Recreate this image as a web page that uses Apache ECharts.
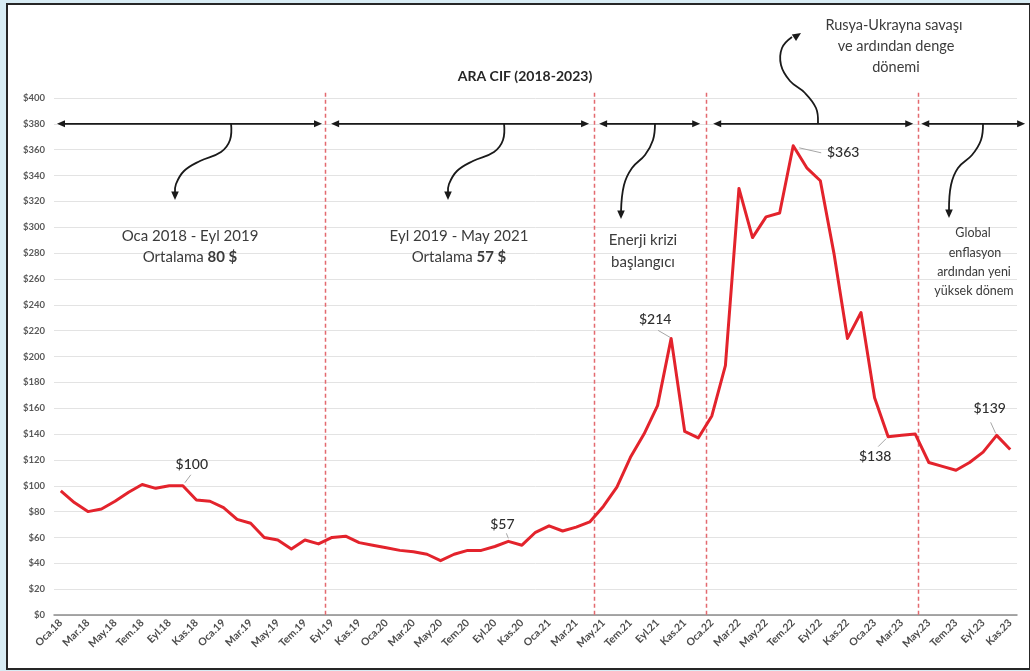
<!DOCTYPE html>
<html>
<head>
<meta charset="utf-8">
<script src="https://cdn.jsdelivr.net/npm/echarts@6/dist/echarts.min.js"></script>
<style>
  html, body { margin: 0; padding: 0; background: #d8ecf4; }
  #wrap { position: relative; width: 1030px; height: 671px; }
  #frame { position: absolute; left: 6px; top: 3px; width: 1021px; height: 663px;
           border: 2px solid #262626; background: #ffffff; }
  #chart { position: absolute; left: 0; top: 0; width: 1030px; height: 671px; }
</style>
</head>
<body>
<div id="wrap"><div id="frame"></div><div id="chart"></div></div>
<script>
// Month names and the years covered (Jan 2018 - Nov 2023)
const monthNames = ['Oca', 'Şub', 'Mar', 'Nis', 'May', 'Haz', 'Tem', 'Ağu', 'Eyl', 'Eki', 'Kas', 'Ara'];
const yearTags = ['18', '19', '20', '21', '22', '23'];
const months = [];
yearTags.forEach(y => monthNames.forEach(m => months.push(m + '.' + y)));
months.length = 71;

// ARA CIF monthly average price, $/t
const prices = [
  96, 87, 80, 82, 88, 95, 101, 98, 100, 100, 89, 88,
  83, 74, 71, 60, 58, 51, 58, 55, 60, 61, 56, 54,
  52, 50, 49, 47, 42, 47, 50, 50, 53, 57, 54, 64,
  69, 65, 68, 72, 84, 99, 122, 140, 162, 214, 142, 137,
  154, 193, 330, 292, 308, 311, 363, 346, 336, 280, 214, 234,
  168, 138, 139, 140, 118, 115, 112, 118, 126, 139, 128
];

// months whose value is written on the chart
const labelled = [9, 33, 45, 54, 61, 69];

// period separators (in month-index units) and the period arrows between them
const periodBreaks = [19.5, 39.3, 47.6, 63.2];
const periodArrows = [[-0.28, 19.26], [19.93, 38.95], [39.69, 47.14], [48.1, 62.85], [63.44, 71.1]];
const arrowLevel = 380;

const yMin = 0, yMax = 400, yStep = 20;

const FONT = 'Lato, "Open Sans", sans-serif';
const INK = '#3b3b3b';
const RED = '#e3232c';

const chart = echarts.init(document.getElementById('chart'), null, { renderer: 'canvas' });

chart.setOption({
  backgroundColor: 'transparent',
  animation: false,
  textStyle: { fontFamily: FONT },
  title: {
    text: 'ARA CIF (2018-2023)',
    left: 520, top: 64, textAlign: 'center',
    textStyle: { fontFamily: FONT, fontSize: 14, fontWeight: 'bold', color: '#262626' }
  },
  grid: { left: 54, right: 13, top: 98, bottom: 56, containLabel: false, outerBoundsMode: 'none' },
  xAxis: [{
    type: 'category',
    data: months,
    boundaryGap: true,
    axisLine: { lineStyle: { color: '#8c8c8c', width: 1.5 } },
    axisTick: { interval: 1, length: 4, lineStyle: { color: '#8c8c8c' } },
    axisLabel: { interval: 1, rotate: 45, margin: 6, fontSize: 10.5, fontWeight: 'bold', color: '#4d4d4d', fontFamily: FONT },
    splitLine: { show: false }
  }, {
    type: 'value', min: -0.5, max: 70.5, show: false
  }],
  yAxis: {
    type: 'value', min: yMin, max: yMax, interval: yStep,
    axisLine: { show: false }, axisTick: { show: false },
    axisLabel: { formatter: v => '$' + v, fontSize: 9.5, fontWeight: 'bold', color: '#595959', margin: 9, fontFamily: FONT },
    splitLine: { lineStyle: { color: '#e3e3e3', width: 1 } }
  },
  series: [{
    type: 'line',
    data: prices,
    symbol: 'none',
    lineStyle: { color: RED, width: 3, join: 'round' },
    z: 5
  }]
});

// ---- annotations ----
const px = i => chart.convertToPixel({ xAxisIndex: 1 }, i);
const cx = i => chart.convertToPixel({ xAxisIndex: 0 }, i);
const py = v => chart.convertToPixel({ yAxisIndex: 0 }, v);

const g = [];

function head(tx, ty, fx, fy, len, half) {
  const a = Math.atan2(ty - fy, tx - fx);
  const bx = tx - len * Math.cos(a), by = ty - len * Math.sin(a);
  const nx = -Math.sin(a) * half, ny = Math.cos(a) * half;
  return { type: 'polygon', silent: true, z: 20,
    shape: { points: [[tx, ty], [bx + nx, by + ny], [bx - nx, by - ny]] },
    style: { fill: '#1a1a1a' } };
}

// dashed period separators
periodBreaks.forEach(b => {
  const x = Math.round(px(b)) + 0.5;
  g.push({ type: 'line', silent: true, z: 3,
    shape: { x1: x, y1: py(404), x2: x, y2: py(0) },
    style: { stroke: '#e36a6f', lineWidth: 1.5, lineDash: [4, 3] } });
});

// double-headed period arrows
periodArrows.forEach(([a, b]) => {
  const y = py(arrowLevel), x1 = px(a), x2 = px(b);
  g.push({ type: 'line', silent: true, z: 20,
    shape: { x1: x1 + 4, y1: y, x2: x2 - 4, y2: y },
    style: { stroke: '#1a1a1a', lineWidth: 1.6 } });
  g.push(head(x1, y, x1 + 10, y, 8, 3.5));
  g.push(head(x2, y, x2 - 10, y, 8, 3.5));
});

// curved pointer arrows
const curves = [
  [[231, 123], [230, 140], [221, 152], [200, 161], [184, 171], [176, 184], [175, 193]],
  [[504, 123], [503, 140], [494, 152], [473, 161], [457, 171], [449, 184], [448, 193]],
  [[655, 123], [653, 140], [645, 155], [632, 168], [624, 185], [621, 212]],
  [[818, 123], [816, 108], [805, 93], [790, 81], [781, 65], [782, 48], [792, 37]],
  [[983, 123], [981, 140], [972, 155], [958, 168], [951, 185], [949, 211]]
];
const tips = [[175, 200], [448, 200], [621, 219], [801, 33], [949, 218]];
curves.forEach((pts, k) => {
  g.push({ type: 'polyline', silent: true, z: 20,
    shape: { points: pts, smooth: 0.4 },
    style: { stroke: '#1a1a1a', lineWidth: 1.8, fill: null } });
  const last = pts[pts.length - 1];
  g.push(head(tips[k][0], tips[k][1], last[0], last[1] - (k === 3 ? -2 : 4), 8.5, 3.8));
});

// period captions
function txt(s, x, y, size, extra) {
  g.push(Object.assign({ type: 'text', silent: true, z: 20,
    style: Object.assign({ text: s, x: x, y: y, align: 'center', verticalAlign: 'middle',
      fontFamily: FONT, fontSize: size, fill: INK }, extra || {}) }));
}
const richB = { n: { fontFamily: FONT, fontSize: 15, color: INK }, b: { fontFamily: FONT, fontSize: 15, fontWeight: 'bold', color: '#262626' } };
txt('Oca 2018 - Eyl 2019', 190, 236, 15);
txt('{n|Ortalama }{b|80 $}', 190, 257, 15, { rich: richB });
txt('Eyl 2019 - May 2021', 459, 236, 15);
txt('{n|Ortalama }{b|57 $}', 459, 257, 15, { rich: richB });
txt('Enerji krizi', 643, 240, 15);
txt('başlangıcı', 643, 262, 15);
txt('Rusya-Ukrayna savaşı', 894, 25, 14.5);
txt('ve ardından denge', 896, 46, 14.5);
txt('dönemi', 896, 67, 14.5);
txt('Global', 973, 233, 12.5);
txt('enflasyon', 975, 253, 12.5);
txt('ardından yeni', 974, 272, 12.5);
txt('yüksek dönem', 974, 291, 12.5);

// value call-outs: text offset and leader line from the point
const calloutStyle = {
  9:  { dx: 9,  dy: -21, l: [2, -3, 8, -11] },
  33: { dx: -6, dy: -17, l: [0, -3, -2, -8] },
  45: { dx: -16, dy: -19, l: [-1, -1, -13, -8] },
  54: { dx: 50, dy: 7,  l: [6, 2, 28, 7] },
  61: { dx: -13, dy: 20, l: [-2, 2, -10, 10] },
  69: { dx: -7, dy: -27, l: [-1, -2, -6, -13] }
};
labelled.forEach(i => {
  const x = cx(i), y = py(prices[i]), c = calloutStyle[i];
  g.push({ type: 'line', silent: true, z: 18,
    shape: { x1: x + c.l[0], y1: y + c.l[1], x2: x + c.l[2], y2: y + c.l[3] },
    style: { stroke: '#a6a6a6', lineWidth: 1 } });
  txt('$' + prices[i], x + c.dx, y + c.dy, 14, { fill: '#2e2e2e', fontWeight: 500 });
});

chart.setOption({ graphic: { elements: g } });
</script>
</body>
</html>
